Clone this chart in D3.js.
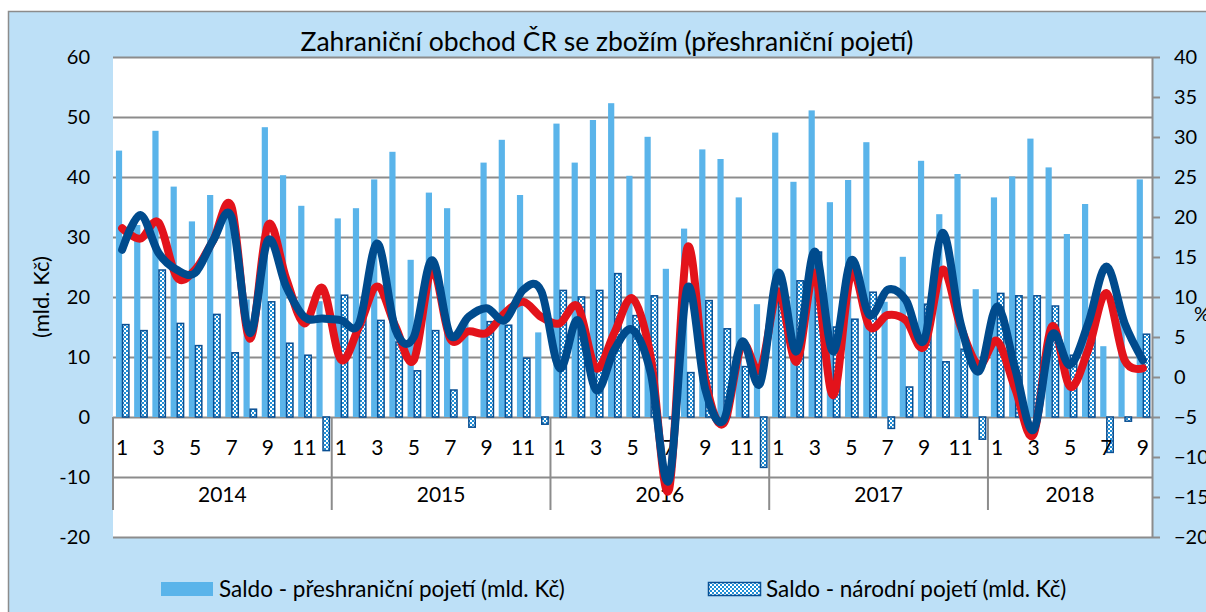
<!DOCTYPE html>
<html lang="cs">
<head>
    <meta charset="UTF-8">
    <title>Zahraniční obchod ČR se zbožím</title>
    <script src="https://cdn.jsdelivr.net/npm/d3@7"></script>
    <style>
        body { margin: 0; background: #fff; }
        text { font-family: Lato, "Open Sans", sans-serif; fill: #000; }
        .grid line { stroke: #8c8c8c; stroke-width: 2; }
        .grid path { display: none; }
        .axisR path, .axisR line { stroke: #8c8c8c; stroke-width: 2; }
    </style>
</head>
<body>
<div id="chart"></div>
<script>
    // months 2014/01 .. 2018/09
    var years = ["2014", "2015", "2016", "2017", "2018"];
    var monthLabels = ["1", "", "3", "", "5", "", "7", "", "9", "", "11", ""];

    // saldo - preshranicni pojeti (mld. Kc)
    var saldoCross = [44.4, 32, 47.7, 38.4, 32.6, 37.0, 34, 19.6, 48.3, 40.3, 35.2, 19.3,
        33.1, 34.8, 39.6, 44.2, 26.2, 37.4, 34.8, 16.4, 42.4, 46.2, 37.0, 14.1,
        48.9, 42.4, 49.5, 52.3, 40.2, 46.7, 24.7, 31.4, 44.6, 43.0, 36.6, 18.8,
        47.4, 39.2, 51.1, 35.8, 39.5, 45.8, 19.2, 26.7, 42.7, 33.8, 40.5, 21.3,
        36.6, 40.1, 46.4, 41.6, 30.5, 35.5, 11.8, 16, 39.6];

    // saldo - narodni pojeti (mld. Kc)
    var saldoNat = [15.4, 14.4, 24.5, 15.6, 11.9, 17.1, 10.7, 1.3, 19.2, 12.3, 10.3, -5.6,
        20.3, 17, 16.1, 12.5, 7.7, 14.4, 4.5, -1.7, 15.9, 15.3, 9.8, -1.2,
        21.1, 20.0, 21.1, 23.9, 16.9, 20.2, -0.3, 7.4, 19.4, 14.7, 8.4, -8.4,
        20.5, 22.7, 27.5, 15.0, 16.3, 20.8, -1.9, 5.0, 18.8, 9.2, 11.3, -3.7,
        20.6, 20.2, 20.2, 18.5, 10.3, 15.9, -5.9, -0.7, 13.8];

    // mezirocni zmena (%) - prava osa
    var redLine = [18.6, 17.3, 19.3, 12.5, 13.4, 17.1, 21.3, 4.8, 19.0, 12.3, 6.7, 11.1,
        2.2, 6.3, 11.3, 6.3, 2.1, 13.4, 4.8, 5.7, 5.5, 8.0, 9.4, 7.5,
        6.7, 8.8, 1.1, 5.5, 9.8, 2.5, -14.1, 16.1, -0.4, -5.8, 4.0, 0.9,
        10.7, 1.9, 13.0, -2.3, 13.0, 6.3, 7.75, 7.1, 3.8, 13.4, 6.3, 1.5,
        4.5, -1.5, -7.2, 6.3, -1.2, 3.4, 10.5, 2.1, 1.1];

    var blueLine = [15.9, 20.25, 15.5, 13.4, 13.0, 17.1, 20.0, 5.5, 17.1, 11.3, 7.5, 7.3,
        7.1, 6.7, 16.7, 5.9, 5.0, 14.6, 5.25, 7.5, 8.6, 7.1, 10.9, 10.7,
        1.1, 7.1, -1.6, 3.4, 5.9, 0.5, -12.9, 11.1, -1.6, -5.4, 4.4, -0.8,
        13.0, 3.2, 15.7, 3.2, 14.6, 7.75, 10.9, 9.6, 4.6, 18.0, 6.7, 0.7,
        8.8, 1.0, -6.6, 5.25, 1.5, 6.7, 13.8, 6.7, 2.1];

    var leftTicks = [-20, -10, 0, 10, 20, 30, 40, 50, 60];
    var rightTicks = [-20, -15, -10, -5, 0, 5, 10, 15, 20, 25, 30, 35, 40];

    var W = 1206, H = 612;
    var x0 = 113, x1 = 1152, yTop = 57, yBot = 537;

    var svg = d3.select("#chart").append("svg")
        .attr("width", W).attr("height", H);

    // pattern for narodni pojeti
    var defs = svg.append("defs");
    var pat = defs.append("pattern")
        .attr("id", "checker")
        .attr("patternUnits", "userSpaceOnUse")
        .attr("width", 4).attr("height", 4);
    pat.append("rect").attr("width", 4).attr("height", 4).attr("fill", "#ffffff");
    pat.append("rect").attr("width", 2).attr("height", 2).attr("fill", "#1f8fd6");
    pat.append("rect").attr("x", 2).attr("y", 2).attr("width", 2).attr("height", 2).attr("fill", "#1f8fd6");

    // background + border
    svg.append("rect").attr("width", W).attr("height", H).attr("fill", "#fff");
    svg.append("rect").attr("x", 8.5).attr("y", 11.5).attr("width", W).attr("height", H)
        .attr("fill", "#bde0f7").attr("stroke", "#8c8c8c").attr("stroke-width", 1.5);
    svg.append("rect").attr("x", x0).attr("y", yTop).attr("width", x1 - x0).attr("height", yBot - yTop)
        .attr("fill", "#fff");

    var n = saldoCross.length;
    var x = d3.scaleBand().domain(d3.range(n)).range([x0, x1]);
    var yL = d3.scaleLinear().domain([-20, 60]).range([yBot, yTop]);
    var yR = d3.scaleLinear().domain([-20, 40]).range([yBot, yTop]);

    // gridlines
    svg.append("g").attr("class", "grid")
        .attr("transform", "translate(" + x0 + ",0)")
        .call(d3.axisLeft(yL).tickValues(leftTicks).tickSize(-(x1 - x0)).tickFormat(""));

    // left labels
    svg.append("g").selectAll("text")
        .data(leftTicks).enter().append("text")
        .attr("x", 90).attr("y", function(d) { return yL(d); })
        .attr("dy", "0.35em")
        .attr("text-anchor", "end")
        .attr("font-size", "20px")
        .text(function(d) { return d; });

    // right axis
    var axR = svg.append("g").attr("class", "axisR")
        .attr("transform", "translate(" + x1 + ",0)")
        .call(d3.axisRight(yR).tickValues(rightTicks).tickSize(8).tickPadding(14).tickSizeOuter(0));
    axR.selectAll("text").attr("font-size", "20px").style("font-family", "Lato, sans-serif");

    // category axis separators
    var catSep = svg.append("g");
    var yearW = x.step() * 12;
    for (var k = 0; k < years.length; k++) {
        catSep.append("line")
            .attr("x1", x0 + k * yearW).attr("x2", x0 + k * yearW)
            .attr("y1", yL(0)).attr("y2", 510)
            .attr("stroke", "#8c8c8c").attr("stroke-width", 2);
    }

    // bars - preshranicni
    var bw = 6.2;
    svg.append("g").selectAll("rect")
        .data(saldoCross).enter().append("rect")
        .attr("x", function(d, i) { return x(i) + x.bandwidth() / 2 - bw; })
        .attr("y", function(d) { return yL(Math.max(0, d)); })
        .attr("width", bw)
        .attr("height", function(d) { return Math.abs(yL(d) - yL(0)); })
        .attr("fill", "#5ab4ea");

    // bars - narodni
    svg.append("g").selectAll("rect")
        .data(saldoNat).enter().append("rect")
        .attr("x", function(d, i) { return x(i) + x.bandwidth() / 2 + 0.4; })
        .attr("y", function(d) { return yL(Math.max(0, d)); })
        .attr("width", 6.4)
        .attr("height", function(d) { return Math.abs(yL(d) - yL(0)); })
        .attr("fill", "url(#checker)")
        .attr("stroke", "#0a4f93")
        .attr("stroke-width", 1.5);

    // month labels
    svg.append("g").selectAll("text")
        .data(saldoCross).enter().append("text")
        .attr("x", function(d, i) { return x(i) + x.bandwidth() / 2; })
        .attr("y", 448)
        .attr("dy", "0.35em")
        .attr("text-anchor", "middle")
        .attr("font-size", "21px")
        .text(function(d, i) { return monthLabels[i % 12]; });

    // year labels
    svg.append("g").selectAll("text")
        .data(years).enter().append("text")
        .attr("x", function(d, k) {
            var first = k * 12, last = Math.min(n, first + 12) - 1;
            return (x(first) + x(last) + x.bandwidth()) / 2;
        })
        .attr("y", 495)
        .attr("dy", "0.35em")
        .attr("text-anchor", "middle")
        .attr("font-size", "21px")
        .text(function(d) { return d; });

    // lines
    var line = d3.line()
        .x(function(d, i) { return x(i) + x.bandwidth() / 2; })
        .y(function(d) { return yR(d); })
        .curve(d3.curveCatmullRom.alpha(0));

    svg.append("path").datum(redLine)
        .attr("d", line).attr("fill", "none")
        .attr("stroke", "#e3131b").attr("stroke-width", 8)
        .attr("stroke-linejoin", "round").attr("stroke-linecap", "round");
    svg.append("path").datum(blueLine)
        .attr("d", line).attr("fill", "none")
        .attr("stroke", "#004b8d").attr("stroke-width", 8)
        .attr("stroke-linejoin", "round").attr("stroke-linecap", "round");

    // title
    svg.append("text")
        .attr("x", 607).attr("y", 51)
        .attr("text-anchor", "middle")
        .attr("font-size", "26.5px")
        .text("Zahraniční obchod ČR se zbožím (přeshraniční pojetí)");

    // axis titles
    svg.append("text")
        .attr("transform", "translate(49,297) rotate(-90)")
        .attr("text-anchor", "middle")
        .attr("font-size", "22px")
        .text("(mld. Kč)");
    svg.append("text")
        .attr("x", 1194).attr("y", 314)
        .attr("dy", "0.35em")
        .attr("font-size", "20px")
        .text("%");

    // legend
    var leg = svg.append("g");
    leg.append("rect").attr("x", 161).attr("y", 582).attr("width", 52).attr("height", 14)
        .attr("fill", "#5ab4ea");
    leg.append("text").attr("x", 219).attr("y", 589).attr("dy", "0.35em")
        .attr("font-size", "22.5px")
        .text("Saldo - přeshraniční pojetí (mld. Kč)");
    leg.append("rect").attr("x", 708.5).attr("y", 582.5).attr("width", 52).attr("height", 13)
        .attr("fill", "url(#checker)").attr("stroke", "#0a4f93").attr("stroke-width", 1.5);
    leg.append("text").attr("x", 766).attr("y", 589).attr("dy", "0.35em")
        .attr("font-size", "22.5px")
        .text("Saldo - národní pojetí (mld. Kč)");
</script>
</body>
</html>
